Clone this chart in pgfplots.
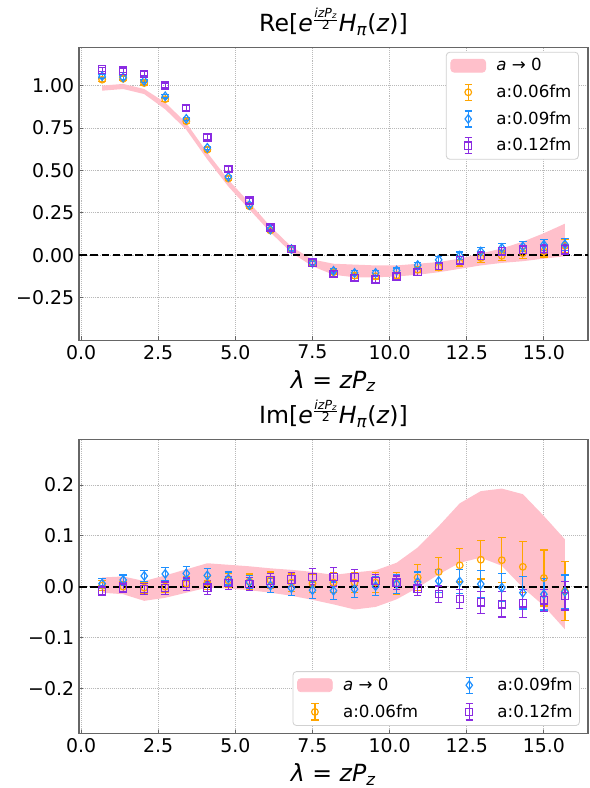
\documentclass[border=0pt]{standalone}
\usepackage{pgfplots}
\pgfplotsset{compat=1.18}
\usepackage{pgfplotstable}
\usepgfplotslibrary{fillbetween}
\usepackage{fontspec}
\setmainfont{DejaVu Sans}
\definecolor{c06}{HTML}{FFA500}
\definecolor{c09}{HTML}{1E90FF}
\definecolor{c12}{HTML}{8A2BE2}
\definecolor{band}{HTML}{FFC0CB}
\newcommand{\efac}{\textit{e}\raisebox{6.3pt}{\fontsize{9}{9}\selectfont$\frac{\hbox{\itshape izP\textsubscript{z}}}{\hbox{2}}$}}

\pgfplotstableread{
x c ec d ed s es lo hi
0.6818 1.035 0.012 1.055 0.010 1.095 0.012 0.970 1.000
1.3636 1.040 0.012 1.048 0.010 1.088 0.012 0.980 1.010
2.0455 1.015 0.012 1.028 0.010 1.070 0.013 0.950 0.980
2.7273 0.920 0.012 0.937 0.010 1.000 0.014 0.860 0.900
3.4091 0.790 0.012 0.804 0.010 0.867 0.015 0.740 0.780
4.0909 0.622 0.012 0.633 0.010 0.695 0.015 0.565 0.605
4.7727 0.452 0.012 0.462 0.010 0.510 0.015 0.405 0.445
5.4545 0.289 0.012 0.296 0.010 0.323 0.015 0.270 0.310
6.1364 0.146 0.012 0.152 0.010 0.164 0.015 0.135 0.170
6.8182 0.033 0.012 0.036 0.010 0.036 0.015 0.015 0.050
7.5000 -0.048 0.013 -0.045 0.011 -0.043 0.015 -0.065 -0.025
8.1818 -0.100 0.014 -0.092 0.012 -0.110 0.016 -0.115 -0.050
8.8636 -0.120 0.015 -0.104 0.013 -0.133 0.016 -0.130 -0.055
9.5455 -0.124 0.016 -0.104 0.014 -0.143 0.017 -0.130 -0.060
10.2273 -0.118 0.017 -0.090 0.015 -0.126 0.018 -0.125 -0.060
10.9091 -0.085 0.018 -0.058 0.017 -0.100 0.019 -0.115 -0.050
11.5909 -0.072 0.020 -0.027 0.019 -0.065 0.020 -0.100 -0.040
12.2727 -0.045 0.022 -0.002 0.021 -0.030 0.021 -0.080 -0.020
12.9545 -0.016 0.025 0.022 0.024 -0.003 0.022 -0.060 0.010
13.6364 -0.003 0.028 0.043 0.027 0.023 0.023 -0.045 0.040
14.3182 0.012 0.030 0.052 0.030 0.033 0.024 -0.035 0.080
15.0000 0.022 0.033 0.062 0.032 0.037 0.025 -0.020 0.130
15.6818 0.056 0.040 0.064 0.034 0.034 0.026 -0.006 0.186
}\retab

\pgfplotstableread{
x c ec d ed s es lo hi
0.6818 0.002 0.010 0.006 0.010 -0.008 0.010 -0.012 0.018
1.3636 0.000 0.010 0.013 0.010 -0.002 0.010 -0.015 0.020
2.0455 -0.002 0.011 0.021 0.011 -0.005 0.011 -0.028 0.011
2.7273 0.000 0.012 0.025 0.013 -0.003 0.012 -0.022 0.022
3.4091 0.006 0.013 0.026 0.013 0.005 0.012 -0.012 0.034
4.0909 0.007 0.013 0.022 0.013 -0.002 0.013 -0.002 0.046
4.7727 0.012 0.014 0.016 0.013 0.007 0.013 -0.004 0.043
5.4545 0.010 0.015 0.009 0.013 0.005 0.013 -0.007 0.040
6.1364 0.013 0.016 0.002 0.014 0.012 0.014 -0.012 0.036
6.8182 0.008 0.017 -0.003 0.015 0.014 0.014 -0.018 0.033
7.5000 0.006 0.018 -0.007 0.016 0.019 0.016 -0.026 0.029
8.1818 0.008 0.019 -0.008 0.017 0.019 0.018 -0.035 0.023
8.8636 0.008 0.020 -0.005 0.017 0.018 0.016 -0.045 0.028
9.5455 0.008 0.020 0.001 0.018 0.011 0.013 -0.040 0.032
10.2273 0.006 0.022 0.005 0.018 0.008 0.013 -0.025 0.047
10.9091 0.018 0.025 0.009 0.020 -0.004 0.014 -0.002 0.077
11.5909 0.029 0.028 0.011 0.023 -0.015 0.016 0.024 0.119
12.2727 0.042 0.033 0.010 0.024 -0.024 0.019 0.047 0.164
12.9545 0.053 0.038 0.005 0.026 -0.031 0.022 0.057 0.188
13.6364 0.052 0.044 -0.002 0.028 -0.035 0.025 0.041 0.193
14.3182 0.039 0.050 -0.012 0.032 -0.033 0.028 -0.002 0.182
15.0000 0.017 0.055 -0.015 0.031 -0.027 0.022 -0.038 0.139
15.6818 -0.009 0.058 -0.010 0.033 -0.018 0.028 -0.084 0.093
}\imtab

\pgfplotsset{
  common/.style={
    scale only axis, width=366.48pt,
    xmin=-0.068, xmax=16.43,
    xtick={0,2.5,5,7.5,10,12.5,15},
    xticklabels={0.0,2.5,5.0,7.5,10.0,12.5,15.0},
    xtick pos=bottom, ytick pos=left, tick align=inside,
    major tick length=2.6pt,
    axis line style={black!60, line width=0.8pt},
    tick style={black!60, line width=0.7pt},
    grid=major, grid style={densely dotted, gray!55, line width=0.6pt},
    ticklabel style={font=\fontsize{13.6}{16}\selectfont},
    title style={font=\fontsize{17}{20}\selectfont, yshift=-1pt},
    label style={font=\fontsize{17}{20}\selectfont},
    xlabel={\textit{λ} = \textit{zP}\textsubscript{\textit{z}}},
    xlabel style={yshift=-1pt},
    legend cell align=left,
    legend style={font=\fontsize{12}{14}\selectfont, draw=black!18, rounded corners=2.5pt,
      line width=0.6pt, fill=white, inner xsep=3pt, inner ysep=2.5pt,
      row sep=4.6pt},
  },
  eb/.style n args={3}{color=#1, only marks, mark=#2, mark size=#3,
    mark options={draw=#1, fill=none, line width=0.85pt, solid},
    forget plot,
    error bars/.cd, y dir=both, y explicit,
    error bar style={line width=0.9pt, draw=#1},
    error mark options={draw=#1, rotate=90, line width=0.9pt, mark size=2.7pt},
    /pgfplots/.cd},
}
\newcommand{\bandimg}{\addlegendimage{legend image code/.code={\fill[band] (0pt,-4.7pt) rectangle (25pt,4.7pt); \path (30.5pt,0pt);}}}
\newcommand{\errimg}[3]{\addlegendimage{legend image code/.code={
  \draw[#1, line width=0.9pt] (12.5pt,-5.8pt) -- (12.5pt,5.8pt);
  \draw[#1, line width=0.9pt] (9.9pt,-5.8pt) -- (15.1pt,-5.8pt) (9.9pt,5.8pt) -- (15.1pt,5.8pt);
  \draw[#1, line width=0.85pt] plot[mark=#2, mark size=#3] coordinates {(12.5pt,0pt)};
  \path (0pt,0pt) (30.5pt,0pt);
}}}

\begin{document}
\begin{tikzpicture}
% top axis
\begin{axis}[common, at={(56.88pt,322.5pt)}, anchor=south west, height=210.7pt,
  ymin=-0.5, ymax=1.225,
  ytick={-0.25,0,0.25,0.5,0.75,1},
  yticklabels={−0.25,0.00,0.25,0.50,0.75,1.00},
  title={Re[\efac\textit{H}\textsubscript{\textit{π}}(\textit{z})]},
  legend style={at={(0.982,0.985)}, anchor=north east},
]
\addplot[name path=up, draw=none, forget plot] table[x=x, y=hi]{\retab};
\addplot[name path=lo, draw=none, forget plot] table[x=x, y=lo]{\retab};
\addplot[band, forget plot] fill between[of=up and lo];
\addplot[black, line width=1.4pt, dash pattern=on 5.5pt off 2.6pt, forget plot] coordinates {(-0.068,0) (16.43,0)};
\addplot[eb={c06}{o}{2.4pt}] table[x=x, y=c, y error=ec]{\retab};
\addplot[eb={c09}{diamond}{3.1pt}] table[x=x, y=d, y error=ed]{\retab};
\addplot[eb={c12}{square}{2.6pt}] table[x=x, y=s, y error=es]{\retab};
\bandimg
\addlegendentry{\textit{a} → 0}
\errimg{c06}{o}{2.4pt}
\addlegendentry{a:0.06fm}
\errimg{c09}{diamond}{3.1pt}
\addlegendentry{a:0.09fm}
\errimg{c12}{square}{2.6pt}
\addlegendentry{a:0.12fm}
\end{axis}
% bottom axis
\begin{axis}[common, at={(56.88pt,38.95pt)}, anchor=south west, height=212.1pt,
  ymin=-0.29, ymax=0.29,
  ytick={-0.2,-0.1,0,0.1,0.2},
  yticklabels={−0.2,−0.1,0.0,0.1,0.2},
  title={Im[\efac\textit{H}\textsubscript{\textit{π}}(\textit{z})]},
  legend columns=2,
  legend style={at={(0.984,0.027)}, anchor=south east,
    /tikz/every even column/.append style={column sep=22pt}},
]
\addplot[name path=up, draw=none, forget plot] table[x=x, y=hi]{\imtab};
\addplot[name path=lo, draw=none, forget plot] table[x=x, y=lo]{\imtab};
\addplot[band, forget plot] fill between[of=up and lo];
\addplot[black, line width=1.4pt, dash pattern=on 5.5pt off 2.6pt, forget plot] coordinates {(-0.068,0) (16.43,0)};
\addplot[eb={c06}{o}{2.4pt}] table[x=x, y=c, y error=ec]{\imtab};
\addplot[eb={c09}{diamond}{3.1pt}] table[x=x, y=d, y error=ed]{\imtab};
\addplot[eb={c12}{square}{2.6pt}] table[x=x, y=s, y error=es]{\imtab};
\bandimg
\addlegendentry{\textit{a} → 0}
\errimg{c09}{diamond}{3.1pt}
\addlegendentry{a:0.09fm}
\errimg{c06}{o}{2.4pt}
\addlegendentry{a:0.06fm}
\errimg{c12}{square}{2.6pt}
\addlegendentry{a:0.12fm}
\end{axis}
\pgfresetboundingbox
\path[use as bounding box] (0,0) rectangle (424.08pt,567.36pt);
\end{tikzpicture}
\end{document}
